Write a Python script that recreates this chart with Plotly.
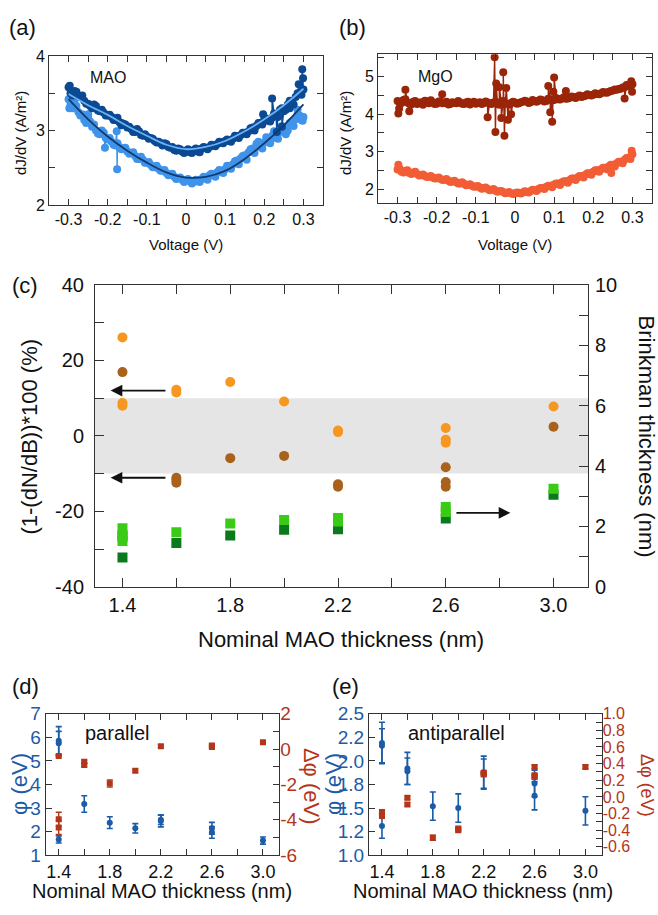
import numpy as np
import plotly.graph_objects as go

W, H = 658, 915
FONT = "Liberation Sans, Arial, sans-serif"

# ---------------- panel (a): MAO dJ/dV ----------------
voltage = np.round(np.arange(-0.30, 0.3001, 0.01), 2)
voltage_half = np.round(np.arange(-0.295, 0.2951, 0.01), 3)
mao_dark = [3.58, 3.47, 3.52, 3.45, 3.40, 3.36, 3.30, 3.33, 3.26, 3.24,
            3.20, 3.18, 3.14, 3.11, 3.09, 3.04, 3.02, 2.98, 2.99, 2.93,
            2.92, 2.90, 2.86, 2.85, 2.80, 2.82, 2.77, 2.74, 2.76, 2.72,
            2.73, 2.71, 2.74, 2.72, 2.76, 2.77, 2.78, 2.80, 2.82, 2.84,
            2.86, 2.86, 2.89, 2.92, 2.94, 2.97, 2.99, 3.04, 3.06, 3.10,
            3.15, 3.13, 3.17, 3.22, 3.28, 3.26, 3.35, 3.38, 3.45, 3.50, 3.55]
mao_dark_half = [3.50, 3.53, 3.46, 3.47, 3.36, 3.33, 3.35, 3.27, 3.28, 3.20,
                 3.21, 3.14, 3.17, 3.07, 3.08, 3.05, 2.98, 3.02, 2.94, 2.95,
                 2.89, 2.89, 2.84, 2.83, 2.83, 2.78, 2.78, 2.73, 2.75, 2.70,
                 2.75, 2.70, 2.76, 2.71, 2.78, 2.75, 2.81, 2.79, 2.85, 2.83,
                 2.88, 2.85, 2.93, 2.90, 2.97, 2.95, 3.03, 3.00, 3.10, 3.08,
                 3.16, 3.12, 3.23, 3.18, 3.30, 3.28, 3.40, 3.35, 3.50, 3.48]
mao_light = [3.42, 3.30, 3.33, 3.20, 3.14, 3.18, 3.05, 3.00, 2.95, 2.97,
             2.88, 2.85, 2.80, 2.78, 2.76, 2.72, 2.70, 2.66, 2.62, 2.61,
             2.57, 2.54, 2.51, 2.49, 2.46, 2.43, 2.41, 2.38, 2.36, 2.34,
             2.33, 2.32, 2.31, 2.33, 2.35, 2.37, 2.40, 2.41, 2.44, 2.46,
             2.48, 2.51, 2.55, 2.60, 2.63, 2.67, 2.71, 2.76, 2.82, 2.78,
             2.84, 2.88, 2.93, 2.90, 2.98, 3.04, 3.00, 3.12, 3.15, 3.20, 3.18]
mao_light_half = [3.35, 3.38, 3.25, 3.22, 3.10, 3.12, 3.08, 2.96, 3.00, 2.90,
                  2.90, 2.81, 2.83, 2.75, 2.77, 2.69, 2.71, 2.62, 2.65, 2.57,
                  2.58, 2.51, 2.53, 2.46, 2.47, 2.40, 2.42, 2.35, 2.37, 2.31,
                  2.35, 2.29, 2.34, 2.31, 2.38, 2.34, 2.42, 2.38, 2.47, 2.43,
                  2.53, 2.49, 2.59, 2.55, 2.66, 2.61, 2.75, 2.70, 2.85, 2.76,
                  2.91, 2.83, 2.99, 2.89, 3.06, 2.97, 3.10, 3.06, 3.22, 3.14]
mao_dark_extra_v = [-0.297, -0.165, 0.197, 0.22, 0.232, 0.245, 0.265, 0.288, 0.297, 0.299]
mao_dark_extra_y = [3.60, 3.10, 3.22, 3.43, 2.98, 3.05, 3.30, 3.62, 3.82, 3.70]
mao_light_extra_v = [-0.298, -0.25, -0.207, -0.177, -0.176, 0.255, 0.285, 0.298]
mao_light_extra_y = [3.30, 3.22, 2.77, 2.99, 2.48, 2.95, 3.28, 3.13]
fit_voltage = np.round(np.arange(-0.30, 0.3001, 0.05), 2)
mao_dark_fit = [3.49, 3.34, 3.21, 3.06, 2.93, 2.81, 2.75, 2.78, 2.86, 2.99, 3.15, 3.34, 3.56]
mao_light_fit = [3.42, 3.15, 2.92, 2.73, 2.57, 2.44, 2.37, 2.38, 2.46, 2.62, 2.83, 3.07, 3.35]

# ---------------- panel (b): MgO dJ/dV ----------------
mgo_dark = [4.35, 4.30, 4.40, 4.28, 4.33, 4.27, 4.32, 4.36, 4.29, 4.31,
            4.28, 4.34, 4.30, 4.26, 4.32, 4.29, 4.31, 4.27, 4.33, 4.30,
            4.28, 4.32, 4.29, 4.31, 4.27, 4.33, 4.25, 4.35, 4.28, 4.30,
            4.31, 4.29, 4.33, 4.34, 4.32, 4.35, 4.36, 4.37, 4.35, 4.40,
            4.38, 4.40, 4.42, 4.41, 4.44, 4.45, 4.47, 4.46, 4.49, 4.51,
            4.52, 4.54, 4.56, 4.58, 4.60, 4.63, 4.65, 4.68, 4.72, 4.76, 4.80]
mgo_dark_half = [4.32, 4.38, 4.31, 4.26, 4.35, 4.30, 4.25, 4.33, 4.37, 4.27,
                 4.34, 4.29, 4.33, 4.27, 4.30, 4.35, 4.28, 4.31, 4.26, 4.33,
                 4.30, 4.27, 4.34, 4.29, 4.31, 4.28, 4.33, 4.30, 4.26, 4.33,
                 4.28, 4.32, 4.36, 4.30, 4.38, 4.33, 4.39, 4.34, 4.41, 4.37,
                 4.43, 4.39, 4.45, 4.42, 4.47, 4.43, 4.50, 4.48, 4.53, 4.50,
                 4.56, 4.53, 4.59, 4.57, 4.62, 4.66, 4.67, 4.71, 4.78, 4.74]
mgo_light = [2.52, 2.46, 2.49, 2.43, 2.44, 2.40, 2.37, 2.35, 2.33, 2.31,
             2.29, 2.27, 2.25, 2.22, 2.20, 2.18, 2.15, 2.14, 2.11, 2.09,
             2.07, 2.04, 2.02, 2.00, 1.98, 1.96, 1.94, 1.92, 1.90, 1.89,
             1.89, 1.90, 1.91, 1.93, 1.95, 1.97, 2.00, 2.03, 2.06, 2.09,
             2.12, 2.15, 2.18, 2.21, 2.24, 2.28, 2.31, 2.35, 2.38, 2.42,
             2.46, 2.50, 2.53, 2.57, 2.61, 2.65, 2.69, 2.73, 2.78, 2.84, 2.93]
mgo_light_half = [2.55, 2.44, 2.50, 2.40, 2.46, 2.36, 2.39, 2.32, 2.35, 2.28,
                  2.31, 2.24, 2.27, 2.19, 2.22, 2.15, 2.18, 2.10, 2.13, 2.06,
                  2.08, 2.01, 2.04, 1.97, 2.00, 1.93, 1.95, 1.89, 1.92, 1.87,
                  1.91, 1.88, 1.94, 1.91, 1.98, 1.95, 2.03, 2.00, 2.09, 2.05,
                  2.15, 2.11, 2.21, 2.17, 2.28, 2.24, 2.35, 2.31, 2.42, 2.38,
                  2.50, 2.46, 2.57, 2.53, 2.65, 2.60, 2.73, 2.69, 2.83, 2.80]
mgo_dark_extra_v = [-0.298, -0.296, -0.28, -0.27, -0.186, -0.07, -0.052, -0.05, -0.048,
                    -0.04, -0.035, -0.03, -0.027, -0.022, -0.018, -0.01,
                    0.085, 0.09, 0.095, 0.098, 0.10, 0.13, 0.28, 0.297, 0.299]
mgo_dark_extra_y = [4.02, 4.15, 4.65, 4.08, 4.53, 3.92, 5.52, 3.52, 4.82,
                    4.72, 3.90, 5.12, 3.42, 4.70, 3.85, 4.00,
                    4.75, 4.05, 3.80, 4.60, 4.98, 4.62, 4.42, 4.88, 4.60]
mgo_light_extra_v = [-0.298, 0.246, 0.298]
mgo_light_extra_y = [2.65, 2.43, 3.02]

# ---------------- panel (c) ----------------
c_orange_x = [1.4, 1.4, 1.4, 1.6, 1.6, 1.8, 2.0, 2.2, 2.2, 2.6, 2.6, 2.6, 3.0]
c_orange_y = [26.1, 8.7, 8.0, 12.2, 11.5, 14.3, 9.1, 1.4, 1.0, 2.1, -1.0, -1.8, 7.8]
c_brown_x = [1.4, 1.6, 1.6, 1.6, 1.8, 2.0, 2.2, 2.2, 2.6, 2.6, 2.6, 3.0]
c_brown_y = [16.9, -11.1, -11.7, -12.4, -5.9, -5.3, -12.8, -13.5, -8.3, -12.2, -13.5, 2.4]
c_dgreen_x = [1.4, 1.4, 1.6, 1.8, 2.0, 2.2, 2.6, 3.0]
c_dgreen_y = [1.67, 0.97, 1.45, 1.70, 1.89, 1.91, 2.26, 3.05]
c_lgreen_x = [1.4, 1.4, 1.4, 1.6, 1.8, 2.0, 2.2, 2.2, 2.6, 2.6, 3.0]
c_lgreen_y = [1.94, 1.72, 1.52, 1.81, 2.10, 2.21, 2.28, 2.16, 2.64, 2.48, 3.25]

# ---------------- panel (d) parallel ----------------
d_phi_x = [1.4, 1.4, 1.4, 1.6, 1.8, 2.0, 2.2, 2.2, 2.6, 2.6, 3.0]
d_phi_y = [5.85, 5.75, 1.67, 3.17, 2.38, 2.14, 2.45, 2.50, 2.14, 1.97, 1.62]
d_phi_err = [0.60, 0.50, 0.15, 0.35, 0.25, 0.20, 0.25, 0.20, 0.25, 0.25, 0.15]
d_dphi_x = [1.4, 1.4, 1.4, 1.6, 1.6, 1.8, 2.0, 2.2, 2.6, 2.6, 3.0]
d_dphi_y = [-0.39, -3.97, -4.43, -0.72, -0.90, -1.95, -1.22, 0.16, 0.20, 0.11, 0.38]
d_dphi_err = [0.05, 0.40, 0.40, 0.10, 0.10, 0.20, 0.10, 0.08, 0.10, 0.08, 0.05]

# ---------------- panel (e) antiparallel ----------------
e_phi_x = [1.4, 1.4, 1.4, 1.6, 1.6, 1.8, 2.0, 2.2, 2.2, 2.6, 2.6, 3.0]
e_phi_y = [2.19, 2.16, 1.31, 1.92, 1.89, 1.52, 1.50, 1.88, 1.86, 1.76, 1.63, 1.47]
e_phi_err = [0.22, 0.18, 0.13, 0.17, 0.14, 0.15, 0.15, 0.17, 0.16, 0.14, 0.15, 0.15]
e_dphi_x = [1.4, 1.4, 1.4, 1.6, 1.6, 1.8, 2.0, 2.0, 2.2, 2.2, 2.6, 2.6, 2.6, 3.0]
e_dphi_y = [-0.18, -0.20, -0.23, -0.01, -0.09, -0.49, -0.38, -0.40, 0.29, 0.27, 0.36, 0.26, 0.24, 0.36]
e_dphi_err = [0.02, 0.02, 0.02, 0.02, 0.02, 0.03, 0.02, 0.02, 0.02, 0.02, 0.02, 0.02, 0.02, 0.02]

# ---------------- tick labels ----------------
v_tickvals = [-0.3, -0.25, -0.2, -0.15, -0.1, -0.05, 0, 0.05, 0.1, 0.15, 0.2, 0.25, 0.3]
v_ticktext = ["-0.3", "", "-0.2", "", "-0.1", "", "0", "", "0.1", "", "0.2", "", "0.3"]
a_ytickvals = [2, 2.5, 3, 3.5, 4]
a_yticktext = ["2", "", "3", "", "4"]
b_ytickvals = [2, 2.5, 3, 3.5, 4, 4.5, 5, 5.5]
b_yticktext = ["2", "", "3", "", "4", "", "5", ""]
t_tickvals = [1.4, 1.6, 1.8, 2.0, 2.2, 2.4, 2.6, 2.8, 3.0]
t_ticktext = ["1.4", "", "1.8", "", "2.2", "", "2.6", "", "3.0"]
c_ltickvals = [-40, -30, -20, -10, 0, 10, 20, 30, 40]
c_lticktext = ["-40", "", "-20", "", "0", "", "20", "", "40"]
c_rtickvals = [0, 1, 2, 3, 4, 5, 6, 7, 8, 9, 10]
c_rticktext = ["0", "", "2", "", "4", "", "6", "", "8", "", "10"]
d_ltickvals = [1, 2, 3, 4, 5, 6, 7]
d_lticktext = ["1", "2", "3", "4", "5", "6", "7"]
d_rtickvals = [-6, -5, -4, -3, -2, -1, 0, 1, 2]
d_rticktext = ["-6", "", "-4", "", "-2", "", "0", "", "2"]
e_ltickvals = [1.0, 1.25, 1.5, 1.75, 2.0, 2.25, 2.5]
e_lticktext = ["1.0", "1.2", "1.5", "1.8", "2.0", "2.2", "2.5"]
e_rtickvals = [-0.6, -0.5, -0.4, -0.3, -0.2, -0.1, 0.0, 0.1, 0.2, 0.3, 0.4, 0.5, 0.6, 0.7, 0.8, 0.9, 1.0]
e_rticktext = ["-0.6", "", "-0.4", "", "-0.2", "", "0.0", "", "0.2", "", "0.4", "", "0.6", "", "0.8", "", "1.0"]

# colours
C_MAO_D, C_MAO_L = "#0b4a92", "#3f93ea"
C_FIT_D, C_FIT_L = "#6ab2f7", "#123a6e"
C_MGO_D, C_MGO_L = "#9a2508", "#f25d36"
C_OR, C_BR = "#f6971f", "#a9621b"
C_LG, C_DG = "#3acb16", "#0a7a1c"
C_BLUE, C_RED = "#1c5ba6", "#b3351a"
AXC = "#333333"


def merged(*pairs):
    pts = []
    for xs, ys in pairs:
        pts += list(zip(list(xs), list(ys)))
    pts.sort(key=lambda p: p[0])
    return [p[0] for p in pts], [p[1] for p in pts]


def hx(px):
    return px / W


def vy(py):
    return 1 - py / H


fig = go.Figure()

# (a)
for base, half, ev, ey, col in [(mao_light, mao_light_half, mao_light_extra_v, mao_light_extra_y, C_MAO_L),
                                (mao_dark, mao_dark_half, mao_dark_extra_v, mao_dark_extra_y, C_MAO_D)]:
    mx, my = merged((voltage, base), (voltage_half, half), (ev, ey))
    fig.add_trace(go.Scatter(x=mx, y=my, mode="lines+markers", xaxis="x", yaxis="y",
                             line=dict(color=col, width=1.4), marker=dict(color=col, size=8),
                             showlegend=False))
fig.add_trace(go.Scatter(x=fit_voltage, y=mao_dark_fit, mode="lines", xaxis="x", yaxis="y",
                         line=dict(color=C_FIT_D, width=1.8, shape="spline"), showlegend=False))
fig.add_trace(go.Scatter(x=fit_voltage, y=mao_light_fit, mode="lines", xaxis="x", yaxis="y",
                         line=dict(color=C_FIT_L, width=1.8, shape="spline"), showlegend=False))

# (b)
for base, half, ev, ey, col in [(mgo_light, mgo_light_half, mgo_light_extra_v, mgo_light_extra_y, C_MGO_L),
                                (mgo_dark, mgo_dark_half, mgo_dark_extra_v, mgo_dark_extra_y, C_MGO_D)]:
    mx, my = merged((voltage, base), (voltage_half, half), (ev, ey))
    fig.add_trace(go.Scatter(x=mx, y=my, mode="lines+markers", xaxis="x2", yaxis="y2",
                             line=dict(color=col, width=1.4), marker=dict(color=col, size=8),
                             showlegend=False))

# (c)
fig.add_trace(go.Scatter(x=c_dgreen_x, y=c_dgreen_y, mode="markers", xaxis="x3", yaxis="y4",
                         marker=dict(color=C_DG, size=10, symbol="square"), showlegend=False))
fig.add_trace(go.Scatter(x=c_lgreen_x, y=c_lgreen_y, mode="markers", xaxis="x3", yaxis="y4",
                         marker=dict(color=C_LG, size=10, symbol="square"), showlegend=False))
fig.add_trace(go.Scatter(x=c_orange_x, y=c_orange_y, mode="markers", xaxis="x3", yaxis="y3",
                         marker=dict(color=C_OR, size=10), showlegend=False))
fig.add_trace(go.Scatter(x=c_brown_x, y=c_brown_y, mode="markers", xaxis="x3", yaxis="y3",
                         marker=dict(color=C_BR, size=10), showlegend=False))

# (d)
fig.add_trace(go.Scatter(x=d_phi_x, y=d_phi_y, mode="markers", xaxis="x4", yaxis="y5",
                         marker=dict(color=C_BLUE, size=6),
                         error_y=dict(type="data", array=d_phi_err, color=C_BLUE, thickness=1.6, width=3),
                         showlegend=False))
fig.add_trace(go.Scatter(x=d_dphi_x, y=d_dphi_y, mode="markers", xaxis="x4", yaxis="y6",
                         marker=dict(color=C_RED, size=6, symbol="square"),
                         error_y=dict(type="data", array=d_dphi_err, color=C_RED, thickness=1.4, width=3),
                         showlegend=False))

# (e)
fig.add_trace(go.Scatter(x=e_phi_x, y=e_phi_y, mode="markers", xaxis="x5", yaxis="y7",
                         marker=dict(color=C_BLUE, size=6),
                         error_y=dict(type="data", array=e_phi_err, color=C_BLUE, thickness=1.6, width=3),
                         showlegend=False))
fig.add_trace(go.Scatter(x=e_dphi_x, y=e_dphi_y, mode="markers", xaxis="x5", yaxis="y8",
                         marker=dict(color=C_RED, size=6, symbol="square"),
                         error_y=dict(type="data", array=e_dphi_err, color=C_RED, thickness=1.4, width=3),
                         showlegend=False))


def axis(domain, rng, tv, tt, size, ticklen=6, mirror="ticks", color="#111", **kw):
    d = dict(domain=domain, range=rng, tickvals=tv, ticktext=tt, ticks="inside", ticklen=ticklen,
             tickcolor=AXC, tickwidth=1, showline=True, linecolor=AXC, linewidth=1,
             mirror=mirror, showgrid=False, zeroline=False,
             tickfont=dict(family=FONT, size=size, color=color))
    d.update(kw)
    return d


t_range = [1.298, 3.128]
layout = dict(
    width=W, height=H, margin=dict(l=0, r=0, t=0, b=0),
    paper_bgcolor="white", plot_bgcolor="rgba(0,0,0,0)", showlegend=False,
    font=dict(family=FONT, color="#111"),
    xaxis=axis([hx(49), hx(323)], [-0.35, 0.35], v_tickvals, v_ticktext, 16, anchor="y"),
    yaxis=axis([vy(199), vy(46)], [2, 4], a_ytickvals, a_yticktext, 16, anchor="x"),
    xaxis2=axis([hx(378), hx(652)], [-0.35, 0.35], v_tickvals, v_ticktext, 16, anchor="y2"),
    yaxis2=axis([vy(197), vy(44.3)], [1.62, 5.6], b_ytickvals, b_yticktext, 16, anchor="x2"),
    xaxis3=axis([hx(95), hx(588)], t_range, t_tickvals, t_ticktext, 20, ticklen=9, anchor="y3"),
    yaxis3=axis([vy(590), vy(280.7)], [-40, 40], c_ltickvals, c_lticktext, 20, ticklen=9,
                mirror=True, anchor="x3", ticklabelstandoff=6),
    yaxis4=axis([vy(590), vy(280.7)], [0, 10], c_rtickvals, c_rticktext, 20, ticklen=9,
                mirror=False, anchor="x3", overlaying="y3", side="right", showline=False,
                ticklabelstandoff=6),
    xaxis4=axis([hx(45.7), hx(279.3)], t_range, t_tickvals, t_ticktext, 18, anchor="y5"),
    yaxis5=axis([vy(865), vy(720)], [1, 7], d_ltickvals, d_lticktext, 19, mirror=True,
                anchor="x4", color=C_BLUE),
    yaxis6=axis([vy(865), vy(720)], [-6, 2], d_rtickvals, d_rticktext, 19, mirror=False,
                anchor="x4", overlaying="y5", side="right", showline=False, color=C_RED),
    xaxis5=axis([hx(369), hx(601.7)], t_range, t_tickvals, t_ticktext, 18, anchor="y7"),
    yaxis7=axis([vy(865), vy(720)], [1.0, 2.5], e_ltickvals, e_lticktext, 19, mirror=True,
                anchor="x5", color=C_BLUE),
    yaxis8=axis([vy(865), vy(720)], [-0.7, 1.0], e_rtickvals, e_rticktext, 16, mirror=False,
                anchor="x5", overlaying="y7", side="right", showline=False, color=C_RED,
                ticklabelstandoff=0),
)
fig.update_layout(**layout)

# grey band in (c)
fig.add_shape(type="rect", xref="x3 domain", yref="y3", x0=0, x1=1, y0=-10, y1=10,
              fillcolor="#e5e5e5", line=dict(width=0), layer="below")


def label(text, x, y, size, color="#111", angle=0):
    fig.add_annotation(text=text, x=hx(x), y=vy(y), xref="paper", yref="paper",
                       showarrow=False, xanchor="center", yanchor="middle", textangle=angle,
                       font=dict(family=FONT, size=size, color=color), borderpad=0)


label("(a)", 22, 17, 22)
label("(b)", 352, 17, 22)
label("(c)", 25, 281, 22)
label("(d)", 25, 692, 22)
label("(e)", 345, 692, 22)
label("MAO", 108, 68, 16)
label("MgO", 435, 67, 16)
label("dJ/dV (A/m²)", 21, 125, 15, angle=-90)
label("dJ/dV (A/m²)", 346, 125, 15, angle=-90)
label("Voltage (V)", 186, 239, 15)
label("Voltage (V)", 515, 239, 15)
label("(1-(dN/dB))*100 (%)", 30, 436, 22, angle=-90)
label("Brinkman thickness (nm)", 646, 436, 22, angle=90)
label("Nominal MAO thickness (nm)", 341, 644, 22)
label("parallel", 117, 740, 20)
label("antiparallel", 456, 740, 20)
label("φ (eV)", 20, 792, 22, color=C_BLUE, angle=-90)
label("Δφ (eV)", 311, 794, 22, color=C_RED, angle=90)
label("φ (eV)", 334, 792, 22, color=C_BLUE, angle=-90)
label("Δφ (eV)", 647, 793, 18, color=C_RED, angle=90)
label("Nominal MAO thickness (nm)", 162, 902, 20)
label("Nominal MAO thickness (nm)", 483, 902, 20)

# arrows in (c)
for (tx, ty, hx_, hy_, yr) in [(1.565, 12.0, 1.356, 12.0, "y3"),
                               (1.565, -11.1, 1.356, -11.1, "y3"),
                               (2.634, -20.4, 2.840, -20.4, "y3")]:
    fig.add_annotation(x=hx_, y=hy_, ax=tx, ay=ty, xref="x3", yref=yr, axref="x3", ayref=yr,
                       text="", showarrow=True, arrowhead=2, arrowsize=1.3, arrowwidth=1.8,
                       arrowcolor="#111")

fig.write_html("out.html")
